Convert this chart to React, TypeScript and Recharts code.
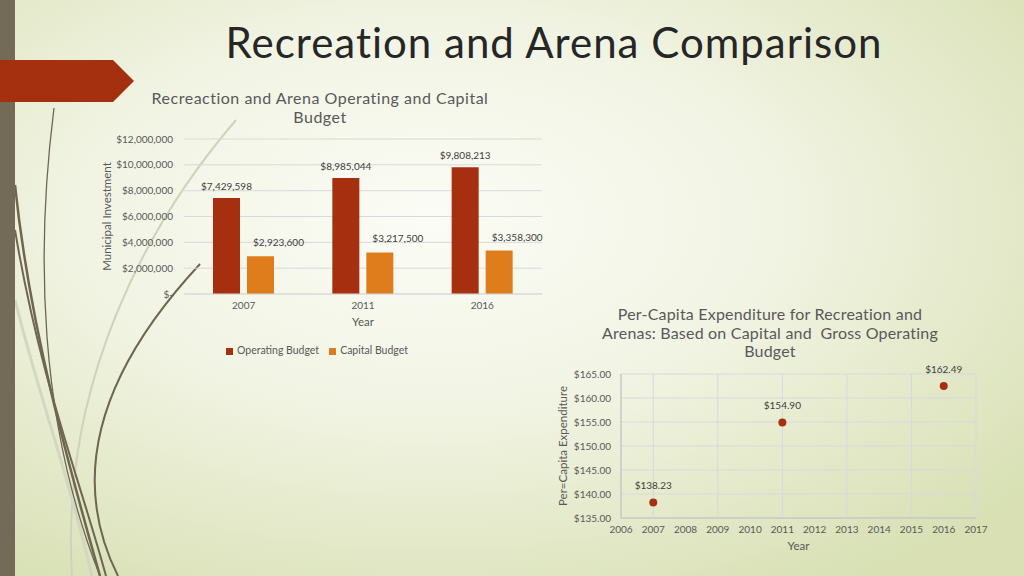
import React from 'react';
import {
  BarChart, Bar, XAxis, YAxis, CartesianGrid, Legend, LabelList,
  ScatterChart, Scatter,
} from 'recharts';

// budget chart
const years = ['2007', '2011', '2016'];
const operatingBudget = [7429598, 8985044, 9808213];
const capitalBudget = [2923600, 3217500, 3358300];
const budgetTicks = [0, 2000000, 4000000, 6000000, 8000000, 10000000, 12000000];

// per-capita chart
const perCapitaYears = [2007, 2011, 2016];
const perCapitaValues = [138.23, 154.9, 162.49];
const perCapitaYTicks = [135, 140, 145, 150, 155, 160, 165];
const perCapitaXTicks = [2006, 2007, 2008, 2009, 2010, 2011, 2012, 2013, 2014, 2015, 2016, 2017];

const budgetData = years.map((y, i) => ({
  year: y,
  operating: operatingBudget[i],
  capital: capitalBudget[i],
}));
const perCapitaData = perCapitaYears.map((y, i) => ({ x: y, y: perCapitaValues[i] }));

const seriesOrder = ['Operating Budget', 'Capital Budget'];

const RED = '#a62f10';
const ORANGE = '#df7d1c';
const GRID = '#d9d9d9';
const AXIS_TEXT = '#595959';
const FONT = 'Lato, "Open Sans", sans-serif';

const money = (v: number) => (v === 0 ? '$-' : '$' + v.toLocaleString('en-US'));

const Decor = () => (
  <svg width={1024} height={576} style={{ position: 'absolute', left: 0, top: 0 }}>
    <defs>
      <radialGradient id="bg" cx="42%" cy="38%" r="75%">
        <stop offset="0%" stopColor="#fbfcf6" />
        <stop offset="45%" stopColor="#f1f4e3" />
        <stop offset="100%" stopColor="#d8e0b4" />
      </radialGradient>
    </defs>
    <rect x={0} y={0} width={1024} height={576} fill="url(#bg)" />
    {/* pale swooshes */}
    <path d="M 236 120 C 150 220 60 380 72 576" stroke="#cfd3bd" strokeWidth={2} fill="none" />
    <path d="M 15 300 C 40 400 70 480 92 576" stroke="#d3d7c2" strokeWidth={3} fill="none" />
    {/* dark swooshes */}
    <path d="M 54 108 C 36 250 38 420 100 576" stroke="#6e6651" strokeWidth={1.3} fill="none" />
    <path d="M 15 185 C 30 330 70 470 100 576" stroke="#6e6651" strokeWidth={2.5} fill="none" />
    <path d="M 15 230 C 40 380 80 480 106 576" stroke="#6e6651" strokeWidth={2} fill="none" />
    <path d="M 200 264 C 120 350 60 460 118 576" stroke="#6e6651" strokeWidth={2} fill="none" />
    <rect x={0} y={0} width={15} height={576} fill="#736b57" />
    <polygon points="0,60 113,60 134,81 113,102 0,102" fill="#a5300f" />
  </svg>
);

export default function App() {
  return (
    <div
      style={{
        position: 'absolute', left: 0, top: 0, width: 1024, height: 576,
        overflow: 'hidden', fontFamily: FONT,
      }}
    >
      <Decor />

      <div
        style={{
          position: 'absolute', left: 0, width: 1108, top: 21, textAlign: 'center',
          fontSize: 42, lineHeight: '42px', letterSpacing: 1, color: '#262626',
        }}
      >
        Recreation and Arena Comparison
      </div>

      <div
        style={{
          position: 'absolute', left: 120, width: 400, top: 88, textAlign: 'center',
          fontSize: 16, lineHeight: '19px', letterSpacing: 0.5, color: AXIS_TEXT,
        }}
      >
        Recreaction and Arena Operating and Capital
        <br />
        Budget
      </div>

      <div
        style={{
          position: 'absolute', left: 570, width: 400, top: 305, textAlign: 'center',
          fontSize: 16, lineHeight: '18.6px', letterSpacing: 0.2, color: AXIS_TEXT, whiteSpace: 'pre',
        }}
      >
        {'Per-Capita Expenditure for Recreation and\nArenas: Based on Capital and  Gross Operating\nBudget'}
      </div>

      <div style={{ position: 'absolute', left: 95, top: 125 }}>
        <BarChart
          width={460}
          height={235}
          data={budgetData}
          margin={{ top: 14, right: 13, left: 0, bottom: 0 }}
          barCategoryGap={29}
          barGap={7}
        >
          <CartesianGrid vertical={false} stroke={GRID} />
          <XAxis
            dataKey="year"
            height={46}
            tickLine={false}
            axisLine={{ stroke: GRID }}
            tick={{ fontSize: 10, fill: AXIS_TEXT }}
            label={{ value: 'Year', position: 'insideTop', offset: 24, fontSize: 11.5, fill: AXIS_TEXT }}
          />
          <YAxis
            width={89}
            domain={[0, 12000000]}
            ticks={budgetTicks}
            tickFormatter={money}
            tickLine={false}
            axisLine={false}
            tickMargin={5}
            tick={{ fontSize: 10, fill: AXIS_TEXT }}
            label={{
              value: 'Municipal Investment', angle: -90, position: 'insideLeft', offset: 12,
              fontSize: 11.5, fill: AXIS_TEXT, style: { textAnchor: 'middle' },
            }}
          />
          <Legend
            verticalAlign="bottom"
            iconType="square"
            iconSize={7}
            itemSorter={(item: any) => seriesOrder.indexOf(item.value)}
            wrapperStyle={{ left: 97, width: 260, height: 20, lineHeight: '20px', fontSize: 10.5 }}
            formatter={(value: string) => <span style={{ color: AXIS_TEXT }}>{value}</span>}
          />
          <Bar dataKey="operating" name="Operating Budget" fill={RED} isAnimationActive={false}>
            <LabelList dataKey="operating" position="top" offset={8} formatter={money} fontSize={10} fill="#404040" />
          </Bar>
          <Bar dataKey="capital" name="Capital Budget" fill={ORANGE} isAnimationActive={false}>
            <LabelList dataKey="capital" position="top" offset={10} dx={18} formatter={money} fontSize={10} fill="#404040" />
          </Bar>
        </BarChart>
      </div>

      <div style={{ position: 'absolute', left: 550, top: 360 }}>
        <ScatterChart width={440} height={200} margin={{ top: 14, right: 14, left: 0, bottom: 0 }}>
          <CartesianGrid stroke={GRID} />
          <XAxis
            type="number"
            dataKey="x"
            domain={[2006, 2017]}
            ticks={perCapitaXTicks}
            height={42}
            tickLine={false}
            axisLine={{ stroke: '#bfbfbf' }}
            tick={{ fontSize: 10, fill: AXIS_TEXT }}
            label={{ value: 'Year', position: 'insideBottom', offset: 10, fontSize: 11.5, fill: AXIS_TEXT }}
          />
          <YAxis
            type="number"
            dataKey="y"
            width={71}
            domain={[135, 165]}
            ticks={perCapitaYTicks}
            tickFormatter={(v: number) => '$' + v.toFixed(2)}
            tickLine={false}
            axisLine={{ stroke: '#bfbfbf' }}
            tickMargin={4}
            tick={{ fontSize: 10, fill: AXIS_TEXT }}
            label={{
              value: 'Per=Capita Expenditure', angle: -90, position: 'insideLeft', offset: 13,
              fontSize: 11.5, fill: AXIS_TEXT, style: { textAnchor: 'middle' },
            }}
          />
          <Scatter
            data={perCapitaData}
            fill={RED}
            isAnimationActive={false}
            shape={(p: any) => <circle cx={p.cx} cy={p.cy} r={4} fill={RED} />}
          >
            <LabelList dataKey="y" position="top" offset={9} formatter={(v: number) => '$' + v.toFixed(2)} fontSize={10} fill="#404040" />
          </Scatter>
        </ScatterChart>
      </div>
    </div>
  );
}
